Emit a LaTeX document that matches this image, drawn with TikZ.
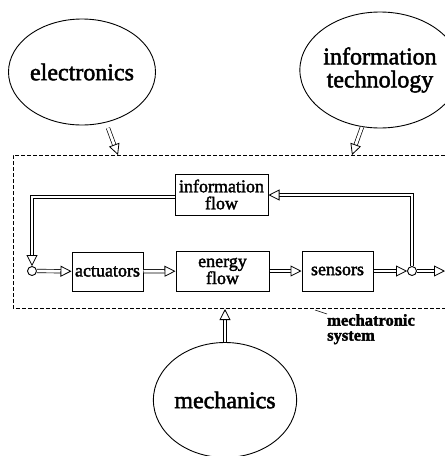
\documentclass[tikz,border=0pt]{standalone}
\usepackage{fontspec}
\setmainfont{Liberation Serif}[FakeBold=2]
\usetikzlibrary{shapes.geometric,arrows.meta,decorations.markings}
\begin{document}
\begin{tikzpicture}[x=1pt,y=-1pt,
  blob/.style={draw, ellipse, line width=0.9pt, inner sep=0pt, font=\fontsize{24}{23}\selectfont, align=center},
  blk/.style={draw, line width=1pt, inner sep=0pt, font=\fontsize{18}{17}\selectfont, align=center},
  dbl/.style={double, double distance=2.8pt, line width=0.7pt, shorten >=10pt,
    postaction={decorate, decoration={markings, mark=at position 1 with {\arrow[line width=0.8pt]{Triangle[length=11pt, width=11pt, fill=white]}}}}},
  jn/.style={draw, circle, minimum size=9pt, inner sep=0pt, line width=0.9pt}]
\useasboundingbox (0,0) rectangle (445,456);
% field ellipses
\node[blob, minimum width=140pt, minimum height=106pt] (el) at (82,72) {electronics};
\node[blob, minimum width=130pt, minimum height=116pt] (it) at (380,70) {information\\technology};
\node[blob, minimum width=140pt, minimum height=115pt] (me) at (225,400) {mechanics};
% system boundary
\draw[line width=0.7pt, dash pattern=on 4pt off 2pt] (445,155) -- (13,155) -- (13,308) -- (445,308);
\node[font=\bfseries\fontsize{16.5}{15}\selectfont, align=left, anchor=north west, inner sep=0pt] (ms) at (327,314) {mechatronic\\system};
\coordinate (l1) at (315,310);
\draw[line width=0.5pt] (l1) -- (ms.north west);
% blocks
\node[blk, minimum width=93pt, minimum height=41pt] (inf) at (221.5,194.5) {information\\flow};
\node[blk, minimum width=71pt, minimum height=39pt] (act) at (107.5,271.5) {actuators};
\node[blk, minimum width=93pt, minimum height=40pt] (en) at (222.5,271) {energy\\flow};
\node[blk, minimum width=71pt, minimum height=40pt] (sen) at (337.5,271) {sensors};
\node[jn] (j1) at (32,271) {};
\node[jn] (j2) at (412,271) {};
\coordinate (out) at (445,271);
% inputs
\coordinate (a1) at (108,128); \coordinate (b1) at (118,155);
\coordinate (a2) at (362,127); \coordinate (b2) at (352,155);
\coordinate (b3) at (225,309);
\draw[dbl] (a1) -- (b1);
\draw[dbl] (a2) -- (b2);
\draw[dbl] (me.north) -- (b3);
% flow
\draw[dbl] (j1) -- (act);
\draw[dbl] (act) -- (en);
\draw[dbl] (en) -- (sen);
\draw[dbl] (sen) -- (j2);
\draw[dbl] (j2) -- (out);
\draw[dbl] (j2.north) -- (412,195) -- (inf.east |- 0,195);
\draw[dbl] (inf.west |- 0,197) -- (32,197) -- (j1.north);
\end{tikzpicture}
\end{document}
